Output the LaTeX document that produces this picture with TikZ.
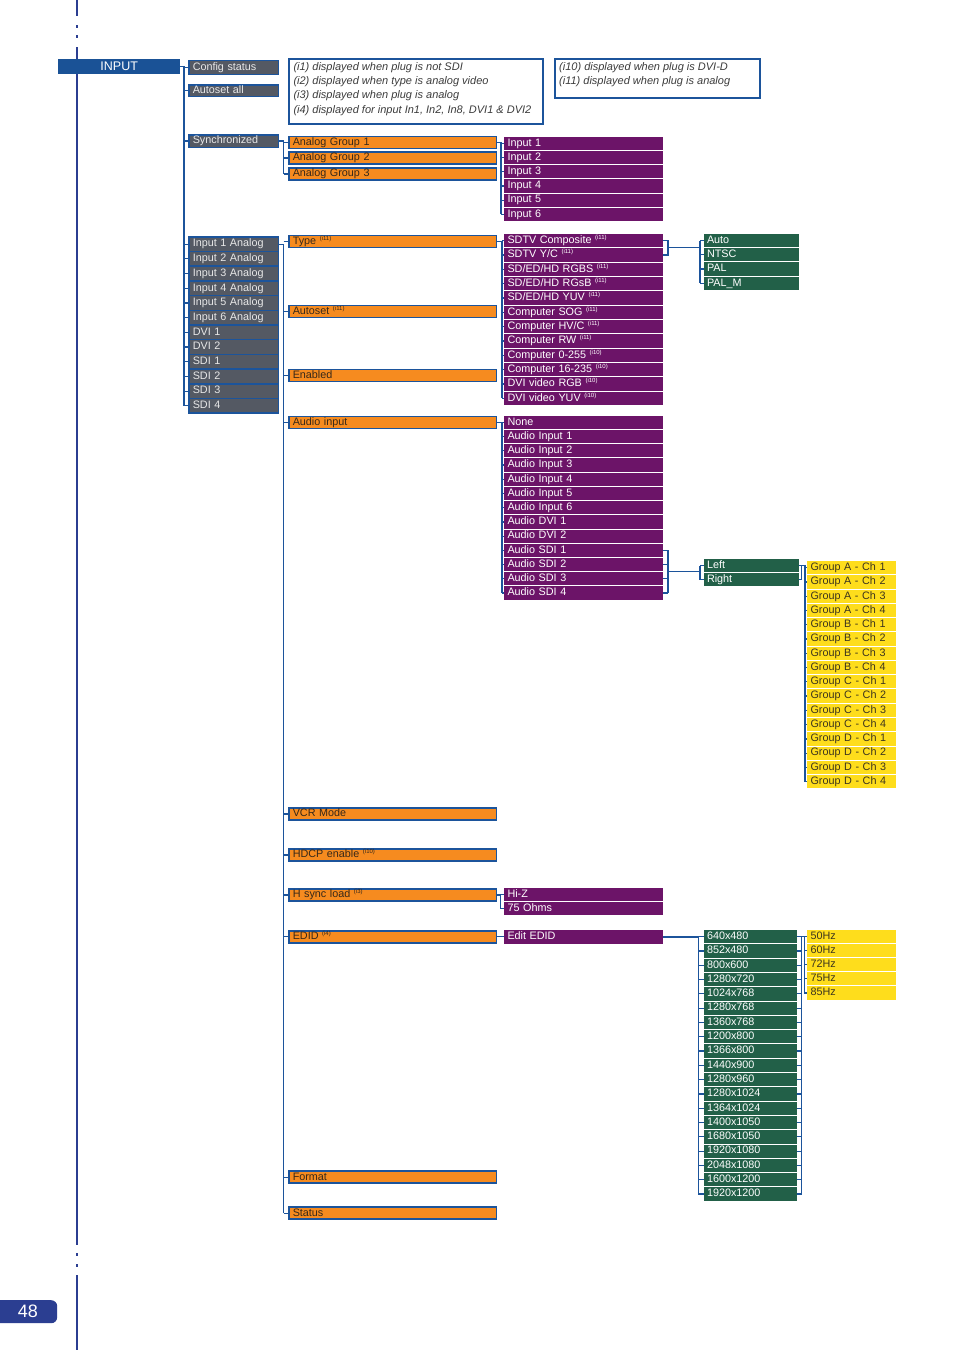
\documentclass[tikz,border=0pt]{standalone}
\usepackage{fontspec}
\setmainfont{Liberation Sans}
\usetikzlibrary{calc}
\definecolor{lnblue}{RGB}{28,84,155}
\definecolor{pgblue}{RGB}{43,62,145}
\definecolor{inblue}{RGB}{26,82,150}
\definecolor{grayb}{RGB}{84,89,99}
\definecolor{gtxt}{RGB}{232,232,232}
\definecolor{orng}{RGB}{246,139,31}
\definecolor{otxt}{RGB}{55,40,25}
\definecolor{purp}{RGB}{108,20,104}
\definecolor{grn}{RGB}{34,96,72}
\definecolor{yel}{RGB}{254,221,28}
\definecolor{ytxt}{RGB}{60,52,30}
\definecolor{ntxt}{RGB}{60,60,60}
\newcommand\nt[1]{\raisebox{4pt}{\fontsize{6}{6.5}\selectfont(#1)}}
\tikzset{
  ln/.style={draw=lnblue, line width=1.2pt},
  bx/.style={rectangle, anchor=north west, inner ysep=0pt, outer sep=0pt, align=left,
     font=\fontsize{10.8}{12}\selectfont, text height=7.8pt, text depth=2.2pt},
  gbx/.style={bx, fill=grayb, draw=lnblue, line width=1.5pt, text=gtxt, inner xsep=4pt, text width=81.5pt},
  obx/.style={bx, fill=orng, draw=lnblue, line width=1.5pt, text=otxt, inner xsep=4pt, text width=199.5pt, minimum height=12pt},
  pbx/.style={bx, fill=purp, text=white, inner xsep=3.5pt, text width=152pt},
  grb/.style={bx, fill=grn, text=white, inner xsep=3pt, text width=#1},
  ybx/.style={bx, fill=yel, text=ytxt, inner xsep=3.5pt, text width=82pt},
  notebox/.style={rectangle, anchor=north west, draw=lnblue, line width=2pt, inner sep=0pt},
  notetext/.style={anchor=base west, inner sep=0pt, align=left, text=ntxt, font=\fontsize{11}{14.2}\selectfont\itshape},
}
\begin{document}
\begin{tikzpicture}[x=1pt,y=-1pt]
\useasboundingbox (0,0) rectangle (954,1350);
\fill[white] (0,0) rectangle (954,1350);
% page rule
\fill[pgblue] (76,0) rectangle (78,16);
\fill[pgblue] (76,25) rectangle (78,28);
\fill[pgblue] (76,34.5) rectangle (78,37.5);
\fill[pgblue] (76,46.5) rectangle (78,1245);
\fill[pgblue] (76,1253.3) rectangle (78,1256);
\fill[pgblue] (76,1264) rectangle (78,1266.7);
\fill[pgblue] (76,1275) rectangle (78,1350);
% page number
\node[fill=pgblue, rounded corners=6pt, anchor=north west, minimum width=65pt, minimum height=23pt, inner sep=0pt] (pg) at (-8,1300) {};
\node[text=white, font=\fontsize{18}{20}\selectfont, inner sep=0pt] (pgnum) at (28,1311.5) {48};

% root
\node[fill=inblue, text=white, anchor=north west, minimum width=122pt, minimum height=15pt, inner sep=0pt, font=\fontsize{12.5}{14}\selectfont] (input) at (58,59) {INPUT};

% notes
\node[notebox, minimum width=254pt, minimum height=64.7pt] (n1) at (288.3,58.3) {};
\node[notetext] (n1t) at (293.3,113.1)
 {(i1) displayed when plug is not SDI\\(i2) displayed when type is analog video\\(i3) displayed when plug is analog\\(i4) displayed for input In1, In2, In8, DVI1 \& DVI2};
\node[notebox, minimum width=204.7pt, minimum height=39pt] (n2) at (554.3,58.3) {};
\node[notetext] (n2t) at (559,84.7)
 {(i10) displayed when plug is DVI-D\\(i11) displayed when plug is analog};

% gray level
\node[gbx, minimum height=14pt] (cfg) at (188.75,60.25) {Config status};
\node[gbx, minimum height=11.5pt] (asa) at (188.75,84.75) {Autoset all};
\node[gbx, minimum height=12.5pt] (sync) at (188.75,134.75) {Synchronized};
\foreach \t [count=\i] in {Input 1 Analog,Input 2 Analog,Input 3 Analog,Input 4 Analog,Input 5 Analog,Input 6 Analog,DVI 1,DVI 2,SDI 1,SDI 2,SDI 3,SDI 4}
  \node[gbx, minimum height=14.7pt] (in\i) at (188.75,{236.75+(\i-1)*14.7}) {\t};

% orange level
\node[obx] (ag1) at (288.75,136.5) {Analog Group 1};
\node[obx] (ag2) at (288.75,152) {Analog Group 2};
\node[obx] (ag3) at (288.75,168) {Analog Group 3};
\node[obx] (type) at (288.75,235.5) {Type \nt{i11}};
\node[obx] (aset) at (288.75,305.5) {Autoset \nt{i11}};
\node[obx] (enab) at (288.75,369.5) {Enabled};
\node[obx] (audio) at (288.75,416.5) {Audio input};
\node[obx] (vcr) at (288.75,808) {VCR Mode};
\node[obx] (hdcp) at (288.75,849) {HDCP enable \nt{i10}};
\node[obx] (hsync) at (288.75,889) {H sync load \nt{i3}};
\node[obx] (edid) at (288.75,930.75) {EDID \nt{i4}};
\node[obx] (format) at (288.75,1171.2) {Format};
\node[obx] (status) at (288.75,1207.2) {Status};

% purple lists
\foreach \t [count=\i] in {Input 1,Input 2,Input 3,Input 4,Input 5,Input 6}
  \node[pbx, minimum height=13.2pt] (inp\i) at (504,{136.7+(\i-1)*14.2}) {\t};
\foreach \t [count=\i] in {SDTV Composite \nt{i11},SDTV Y/C \nt{i11},SD/ED/HD RGBS \nt{i11},SD/ED/HD RGsB \nt{i11},SD/ED/HD YUV \nt{i11},Computer SOG \nt{i11},Computer HV/C \nt{i11},Computer RW \nt{i11},Computer 0-255 \nt{i10},Computer 16-235 \nt{i10},DVI video RGB \nt{i10},DVI video YUV \nt{i10}}
  \node[pbx, minimum height=13.3pt] (ty\i) at (504,{234+(\i-1)*14.33}) {\t};
\foreach \t [count=\i] in {None,Audio Input 1,Audio Input 2,Audio Input 3,Audio Input 4,Audio Input 5,Audio Input 6,Audio DVI 1,Audio DVI 2,Audio SDI 1,Audio SDI 2,Audio SDI 3,Audio SDI 4}
  \node[pbx, minimum height=13.2pt] (au\i) at (504,{415.7+(\i-1)*14.23}) {\t};
\foreach \t [count=\i] in {Hi-Z,75 Ohms}
  \node[pbx, minimum height=13pt] (hz\i) at (504,{888.3+(\i-1)*13.9}) {\t};
\node[pbx, minimum height=14pt] (ee) at (504,930) {Edit EDID};

% green lists
\foreach \t [count=\i] in {Auto,NTSC,PAL,PAL\_M}
  \node[grb=89pt, minimum height=13.2pt] (sd\i) at (704,{234+(\i-1)*14.2}) {\t};
\foreach \t [count=\i] in {Left,Right}
  \node[grb=89pt, minimum height=13pt] (lr\i) at (704,{559+(\i-1)*14}) {\t};
\foreach \t [count=\i] in {640x480,852x480,800x600,1280x720,1024x768,1280x768,1360x768,1200x800,1366x800,1440x900,1280x960,1280x1024,1364x1024,1400x1050,1680x1050,1920x1080,2048x1080,1600x1200,1920x1200}
  \node[grb=87pt, minimum height=13.3pt] (res\i) at (704,{930+(\i-1)*14.3}) {\t};

% yellow lists
\foreach \t [count=\i] in {Group A - Ch 1,Group A - Ch 2,Group A - Ch 3,Group A - Ch 4,Group B - Ch 1,Group B - Ch 2,Group B - Ch 3,Group B - Ch 4,Group C - Ch 1,Group C - Ch 2,Group C - Ch 3,Group C - Ch 4,Group D - Ch 1,Group D - Ch 2,Group D - Ch 3,Group D - Ch 4}
  \node[ybx, minimum height=13.3pt] (grp\i) at (807,{561+(\i-1)*14.27}) {\t};
\foreach \t [count=\i] in {50Hz,60Hz,72Hz,75Hz,85Hz}
  \node[ybx, minimum height=13.1pt] (hq\i) at (807,{930+(\i-1)*14.1}) {\t};

% bus x positions
\coordinate (bA) at (184,0);
\coordinate (bB) at (283.5,0);
\coordinate (bD) at (501,0);
\coordinate (bE) at (502,0);
\coordinate (bF) at (668,0);
\coordinate (bG) at (700,0);
\coordinate (bH) at (801.5,0);
\coordinate (bI) at (805,0);
\coordinate (bJ) at (500.5,0);
\coordinate (bK) at (698.3,0);
\coordinate (bL) at (801.5,0);
\coordinate (bM) at (804.3,0);

% INPUT -> gray level
\draw[ln] (input.east) -- (bA |- input.east) -- (bA |- in12.west);
\foreach \c in {cfg,asa,sync,in1,in2,in3,in4,in5,in6,in7,in8,in9,in10,in11,in12}
  \draw[ln] (bA |- \c.west) -- (\c.west);
% Synchronized -> analog groups
\draw[ln] (sync.east) -- (bB |- sync.east) -- (bB |- ag3.west);
\foreach \c in {ag1,ag2,ag3}
  \draw[ln] (bB |- \c.west) -- (\c.west);
% Input 1 Analog -> orange level
\draw[ln] (in1.east) -- (bB |- in1.east) -- (bB |- status.west);
\foreach \c in {type,aset,enab,audio,vcr,hdcp,hsync,edid,format,status}
  \draw[ln] (bB |- \c.west) -- (\c.west);
% Analog Group 1 -> inputs
\draw[ln] (ag1.east) -- (bD |- ag1.east) -- (bD |- inp6.west);
\foreach \i in {1,...,6}
  \draw[ln] (bD |- inp\i.west) -- (inp\i.west);
% Type -> types
\draw[ln] (type.east) -- (bE |- type.east) -- (bE |- ty12.west);
\foreach \i in {1,...,12}
  \draw[ln] (bE |- ty\i.west) -- (ty\i.west);
% Audio input -> audio list
\draw[ln] (audio.east) -- (bE |- audio.east) -- (bE |- au13.west);
\foreach \i in {1,...,13}
  \draw[ln] (bE |- au\i.west) -- (au\i.west);
% SDTV -> standards
\draw[ln] (ty1.east) -- (bF |- ty1.east) -- (bF |- ty2.east) -- (ty2.east);
\coordinate (m1) at ($(bF |- ty1.east)!0.5!(bF |- ty2.east)$);
\draw[ln] (m1) -- (bG |- m1);
\draw[ln] (bG |- sd1.west) -- (bG |- sd4.west);
\foreach \i in {1,...,4}
  \draw[ln] (bG |- sd\i.west) -- (sd\i.west);
% Audio SDI -> Left/Right
\draw[ln] (au10.east) -- (bF |- au10.east) -- (bF |- au13.east);
\foreach \i in {10,...,13}
  \draw[ln] (au\i.east) -- (bF |- au\i.east);
\coordinate (m2) at ($(bF |- au10.east)!0.5!(bF |- au13.east)$);
\draw[ln] (m2) -- (bG |- m2);
\draw[ln] (bG |- lr1.west) -- (bG |- lr2.west);
\foreach \i in {1,2}
  \draw[ln] (bG |- lr\i.west) -- (lr\i.west);
% Left/Right -> groups
\draw[ln] (lr1.east) -- (bH |- lr1.east) -- (bH |- lr2.east) -- (lr2.east);
\draw[ln] (bH |- lr1.east) -- (bI |- lr1.east) -- (bI |- grp16.west);
\foreach \i in {1,...,16}
  \draw[ln] (bI |- grp\i.west) -- (grp\i.west);
% H sync load -> Hi-Z / 75 Ohms
\draw[ln] (hsync.east) -- (bJ |- hsync.east) -- (bJ |- hz2.west);
\foreach \i in {1,2}
  \draw[ln] (bJ |- hz\i.west) -- (hz\i.west);
% EDID -> Edit EDID
\draw[ln] (edid.east) -- (ee.west |- edid.east);
% Edit EDID -> resolutions
\draw[ln] (ee.east) -- (bK |- ee.east) -- (bK |- res19.west);
\foreach \i in {1,...,19}
  \draw[ln] (bK |- res\i.west) -- (res\i.west);
% resolutions -> frequencies
\draw[ln] (bL |- res1.east) -- (bL |- res19.east);
\foreach \i in {1,...,19}
  \draw[ln] (res\i.east) -- (bL |- res\i.east);
\draw[ln] (bL |- res1.east) -- (bM |- res1.east) -- (bM |- hq5.west);
\foreach \i in {1,...,5}
  \draw[ln] (bM |- hq\i.west) -- (hq\i.west);
\end{tikzpicture}
\end{document}
